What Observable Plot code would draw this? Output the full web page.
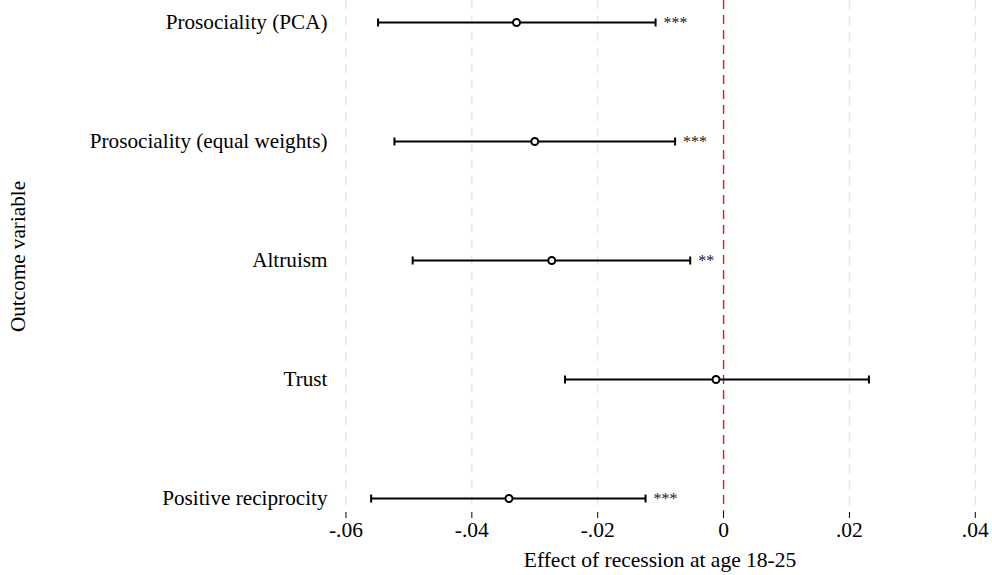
<!DOCTYPE html>
<html>
<head>
<meta charset="utf-8">
<script src="https://cdn.jsdelivr.net/npm/d3@7"></script>
<script src="https://cdn.jsdelivr.net/npm/@observablehq/plot@0.6"></script>
<style>
  html, body { margin: 0; padding: 0; background: #fff; }
  #chart svg { display: block; }
</style>
</head>
<body>
<div id="chart"></div>
<script>
const outcomes = ["Prosociality (PCA)", "Prosociality (equal weights)", "Altruism", "Trust", "Positive reciprocity"];
const estimates = [-0.0329, -0.0300, -0.0273, -0.0012, -0.0341];
const lower = [-0.0549, -0.0523, -0.0494, -0.0252, -0.0560];
const upper = [-0.0108, -0.0077, -0.0053, 0.0231, -0.0124];
const stars = ["***", "***", "**", "", "***"];
const xTicks = [-0.06, -0.04, -0.02, 0, 0.02, 0.04];
const xLabel = "Effect of recession at age 18-25";
const yLabel = "Outcome variable";

const data = outcomes.map((o, i) => ({outcome: o, est: estimates[i], lo: lower[i], hi: upper[i], stars: stars[i]}));

const fmt = d => d === 0 ? "0" : (d < 0 ? "-" : "") + String(+Math.abs(d).toFixed(4)).replace(/^0/, "");

const capSymbol = {
  draw(context, size) {
    const h = Math.sqrt(size / Math.PI);
    context.moveTo(0, -h);
    context.lineTo(0, h);
  }
};

const chart = Plot.plot({
  width: 992,
  height: 575,
  marginLeft: 331,
  marginRight: 4,
  marginTop: 0,
  marginBottom: 63,
  style: {fontFamily: "'Liberation Serif', 'Times New Roman', serif", color: "#000", background: "#fff"},
  x: {domain: [-0.0623, 0.0421]},
  y: {type: "point", domain: outcomes, padding: 0.116, insetTop: 8},
  marks: [
    Plot.ruleX(xTicks.filter(d => d !== 0), {stroke: "#e6e6e6", strokeWidth: 1.5, strokeDasharray: "9,7"}),
    Plot.ruleX([0], {stroke: "#e01818", strokeWidth: 1.4, strokeDasharray: "9,6"}),
    Plot.axisX({ticks: xTicks, tickFormat: fmt, tickSize: 6, tickPadding: 3, fontSize: 21.5, line: true,
      label: xLabel, labelAnchor: "center", labelOffset: 54, labelArrow: "none"}),
    Plot.axisY({tickSize: 0, tickPadding: 4, fontSize: 21.2, line: true,
      label: yLabel, labelAnchor: "center", labelOffset: 322, labelArrow: "none"}),
    Plot.ruleY(data, {y: "outcome", x1: "lo", x2: "hi", stroke: "#000", strokeWidth: 2}),
    Plot.dot(data, {x: "lo", y: "outcome", symbol: capSymbol, r: 4, stroke: "#000", strokeWidth: 2, fill: "none"}),
    Plot.dot(data, {x: "hi", y: "outcome", symbol: capSymbol, r: 4, stroke: "#000", strokeWidth: 2, fill: "none"}),
    Plot.dot(data, {x: "est", y: "outcome", r: 3.5, stroke: "#000", strokeWidth: 2, fill: "#fff"}),
    Plot.text(data, {x: "hi", y: "outcome", text: "stars", dx: 8, textAnchor: "start", fontSize: 16, fill: "#222"})
  ]
});
document.getElementById("chart").appendChild(chart);
</script>
</body>
</html>
